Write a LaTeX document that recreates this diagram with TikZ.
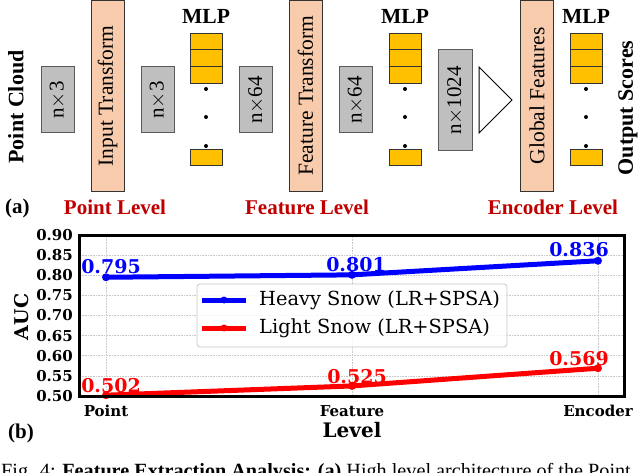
\documentclass[tikz,border=0pt]{standalone}
\usepackage{fontspec}
\setmainfont{Liberation Serif}
\newfontfamily\plotfont{DejaVu Serif}
\definecolor{graybox}{RGB}{191,191,191}
\definecolor{grayline}{RGB}{90,90,90}
\definecolor{peach}{RGB}{248,203,173}
\definecolor{mlpyellow}{RGB}{255,192,0}
\definecolor{lvlred}{RGB}{192,0,0}
\definecolor{gridgray}{RGB}{200,200,200}
\definecolor{heavyblue}{RGB}{0,0,255}
\definecolor{lightred}{RGB}{255,0,0}
\tikzset{
  dimbox/.style={draw=grayline, fill=graybox, line width=1pt, rotate=90,
    minimum width=66pt, minimum height=33pt, inner sep=0pt, font=\fontsize{21}{21}\selectfont},
  transbox/.style={draw=black!80, fill=peach, line width=1pt, rotate=90,
    minimum width=191pt, minimum height=33pt, inner sep=0pt, font=\fontsize{21.5}{21.5}\selectfont},
  mlpcell/.style={draw=black!80, fill=mlpyellow, line width=1pt,
    minimum width=32pt, minimum height=16.7pt, inner sep=0pt},
  mlplabel/.style={anchor=base, font=\fontsize{21.5}{21.5}\selectfont\bfseries, inner sep=0pt},
  sidelabel/.style={rotate=90, font=\fontsize{22}{22}\selectfont\bfseries, inner sep=0pt},
  levellabel/.style={anchor=base, text=lvlred, font=\fontsize{21}{21}\selectfont\bfseries, inner sep=0pt},
  ticklabel/.style={font=\plotfont\fontsize{15}{15}\selectfont\bfseries, inner sep=0pt},
  vallabel/.style={anchor=base, font=\plotfont\fontsize{19}{19}\selectfont\bfseries, inner sep=0pt},
  gridline/.style={draw=gridgray, line width=0.6pt, densely dotted},
  dataline/.style={line width=5pt, line join=round, line cap=round},
  legtext/.style={anchor=west, font=\plotfont\fontsize{19.4}{19.4}\selectfont, inner sep=0pt},
}
\newcommand{\mlpstack}[2]{%
  \node[mlpcell] (#2a) at (#1,41.5) {};
  \node[mlpcell] (#2b) at (#1,58.3) {};
  \node[mlpcell] (#2c) at (#1,75) {};
  \node[mlpcell] (#2d) at (#1,157.5) {};
  \fill (#1,89) circle (2pt) (#1,117) circle (2pt) (#1,146) circle (2pt);
}
\begin{document}
\begin{tikzpicture}[x=1pt,y=-1pt]
\useasboundingbox (0,0) rectangle (640,473);
\fill[white] (0,0) rectangle (640,473);
% ---------- part (a)
\node[sidelabel] (pc) at (16,107) {Point Cloud};
\node[dimbox] (d1) at (57.5,100) {n$\times$3};
\node[transbox] (it) at (107.5,95.8) {Input Transform};
\node[dimbox] (d2) at (157.5,100) {n$\times$3};
\mlpstack{206}{ma}
\node[mlplabel] (ml1) at (206,24) {MLP};
\node[dimbox] (d3) at (256,100) {n$\times$64};
\node[transbox] (ft) at (305.5,95.8) {Feature Transform};
\node[dimbox] (d4) at (355.5,100) {n$\times$64};
\mlpstack{405}{mb}
\node[mlplabel] (ml2) at (405,24) {MLP};
\node[dimbox, minimum width=101pt, minimum height=34pt] (d5) at (455,100.5) {n$\times$1024};
\coordinate (t1) at (479,67);
\coordinate (t2) at (479,133);
\coordinate (t3) at (512,100);
\draw[fill=white, line width=1pt] (t1) -- (t3) -- (t2) -- cycle;
\node[transbox] (gf) at (537,95.8) {Global Features};
\mlpstack{586}{mc}
\node[mlplabel] (ml3) at (586,24) {MLP};
\node[sidelabel] (os) at (628,108) {Output Scores};
\node[anchor=base west, font=\fontsize{21}{21}\selectfont\bfseries, inner sep=0pt] (la) at (5,214) {(a)};
\node[levellabel] (l1) at (115,215) {Point Level};
\node[levellabel] (l2) at (307,215) {Feature Level};
\node[levellabel] (l3) at (553,215) {Encoder Level};
% ---------- part (b)
\begin{scope}[shift={(106,597.25)}, x=246pt, y=402.5pt]
  \foreach \v in {0.55,0.60,...,0.86}
    \draw[gridline] (-0.1057,\v) -- (2.1057,\v);
  \foreach \i in {0,1,2}
    \draw[gridline] (\i,0.5) -- (\i,0.9);
  \foreach \v/\t in {0.50/0.50,0.55/0.55,0.60/0.60,0.65/0.65,0.70/0.70,0.75/0.75,0.80/0.80,0.85/0.85,0.90/0.90}
    \node[ticklabel, anchor=east] at ([xshift=-7pt]-0.1057,\v) {\t};
  \coordinate (h0) at (0,0.795);
  \coordinate (h1) at (1,0.801);
  \coordinate (h2) at (2,0.836);
  \coordinate (r0) at (0,0.502);
  \coordinate (r1) at (1,0.525);
  \coordinate (r2) at (2,0.569);
  \draw[dataline, heavyblue] (h0) -- (h1) -- (h2);
  \draw[dataline, lightred] (r0) -- (r1) -- (r2);
  \foreach \p in {h0,h1,h2} \fill[heavyblue] (\p) circle (4pt);
  \foreach \p in {r0,r1,r2} \fill[lightred] (\p) circle (4pt);
  \draw[line width=3pt, line join=miter] (-0.1057,0.5) rectangle (2.1057,0.9);
  \node[ticklabel, anchor=base] (xt0) at ([yshift=-20pt]0,0.5) {Point};
  \node[ticklabel, anchor=base] (xt1) at ([yshift=-20pt]1,0.5) {Feature};
  \node[ticklabel, anchor=base] (xt2) at ([yshift=-20pt]2,0.5) {Encoder};
\end{scope}
\node[vallabel, text=heavyblue] (v1) at (111,273) {0.795};
\node[vallabel, text=heavyblue] (v2) at (356,272) {0.801};
\node[vallabel, text=heavyblue] (v3) at (579,257) {0.836};
\node[vallabel, text=lightred] (v4) at (111,392) {0.502};
\node[vallabel, text=lightred] (v5) at (357,383) {0.525};
\node[vallabel, text=lightred] (v6) at (579,365) {0.569};
% legend
\node[draw=gridgray, fill=white, fill opacity=0.85, rounded corners=3pt, line width=0.8pt,
  minimum width=310pt, minimum height=63pt, inner sep=0pt] (leg) at (352,315.5) {};
\coordinate (lb1) at (202,300);
\coordinate (lb2) at (246,300);
\coordinate (lr1) at (202,328);
\coordinate (lr2) at (246,328);
\draw[line width=5pt, heavyblue] (lb1) -- (lb2);
\fill[heavyblue] (224,300) circle (3.5pt);
\draw[line width=5pt, lightred] (lr1) -- (lr2);
\fill[lightred] (224,328) circle (3.5pt);
\node[legtext] (lt1) at (259,300) {Heavy Snow (LR+SPSA)};
\node[legtext] (lt2) at (259,328) {Light Snow (LR+SPSA)};
% axis labels
\node[rotate=90, font=\plotfont\fontsize{19}{19}\selectfont\bfseries, inner sep=0pt] (yl) at (22,317) {AUC};
\node[anchor=base, font=\plotfont\fontsize{20}{20}\selectfont\bfseries, inner sep=0pt] (xl) at (352,437) {Level};
\node[anchor=base west, font=\fontsize{21}{21}\selectfont\bfseries, inner sep=0pt] (lb) at (8,438) {(b)};
% caption (cut off at the lower edge, as in the reference)
\begin{scope}
  \clip (0,0) rectangle (640,473);
  \node[anchor=base west, font=\fontsize{20.2}{20.2}\selectfont, inner sep=0pt] (cap) at (1,477.5)
    {Fig. 4: \textbf{Feature Extraction Analysis:} \textbf{(a)} High level architecture of the Point};
\end{scope}
\end{tikzpicture}
\end{document}
